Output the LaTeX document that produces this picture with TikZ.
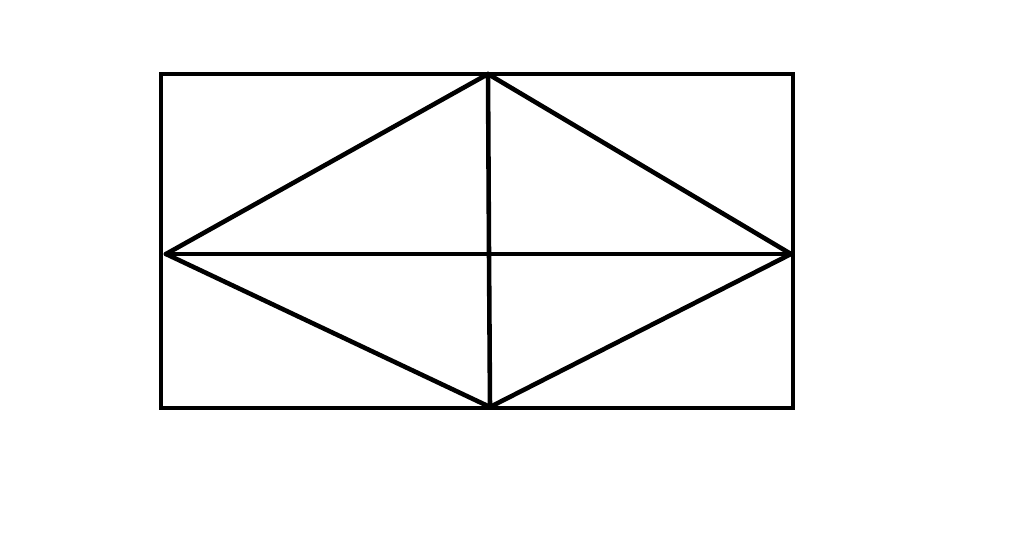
\documentclass[tikz,border=0pt]{standalone}
\usepackage{tikz}

\begin{document}
\begin{tikzpicture}[x=0.02cm,y=-0.02cm,
    thick,line/.style={draw=black,line width=2.6pt,line cap=round,line join=miter}]

    \useasboundingbox (0,0) rectangle (1024,559);

    % outer frame
    \coordinate (NW) at (161,74);
    \coordinate (SE) at (793,408);
    \draw[line] (NW) rectangle (SE);

    % corners of the rhombus
    \coordinate (Top) at (488,74);
    \coordinate (Left) at (166,254);
    \coordinate (Right) at (791,254);
    \coordinate (Bottom) at (490,407);
    \coordinate (Mid) at (489,254);

    \path[line]
      (Top) edge (Left)
      (Top) edge (Right)
      (Left) edge (Bottom)
      (Right) edge (Bottom)
      (Left) edge (Right)
      (Top) edge (Mid)
      (Mid) edge (Bottom)
      ;
\end{tikzpicture}
\end{document}
